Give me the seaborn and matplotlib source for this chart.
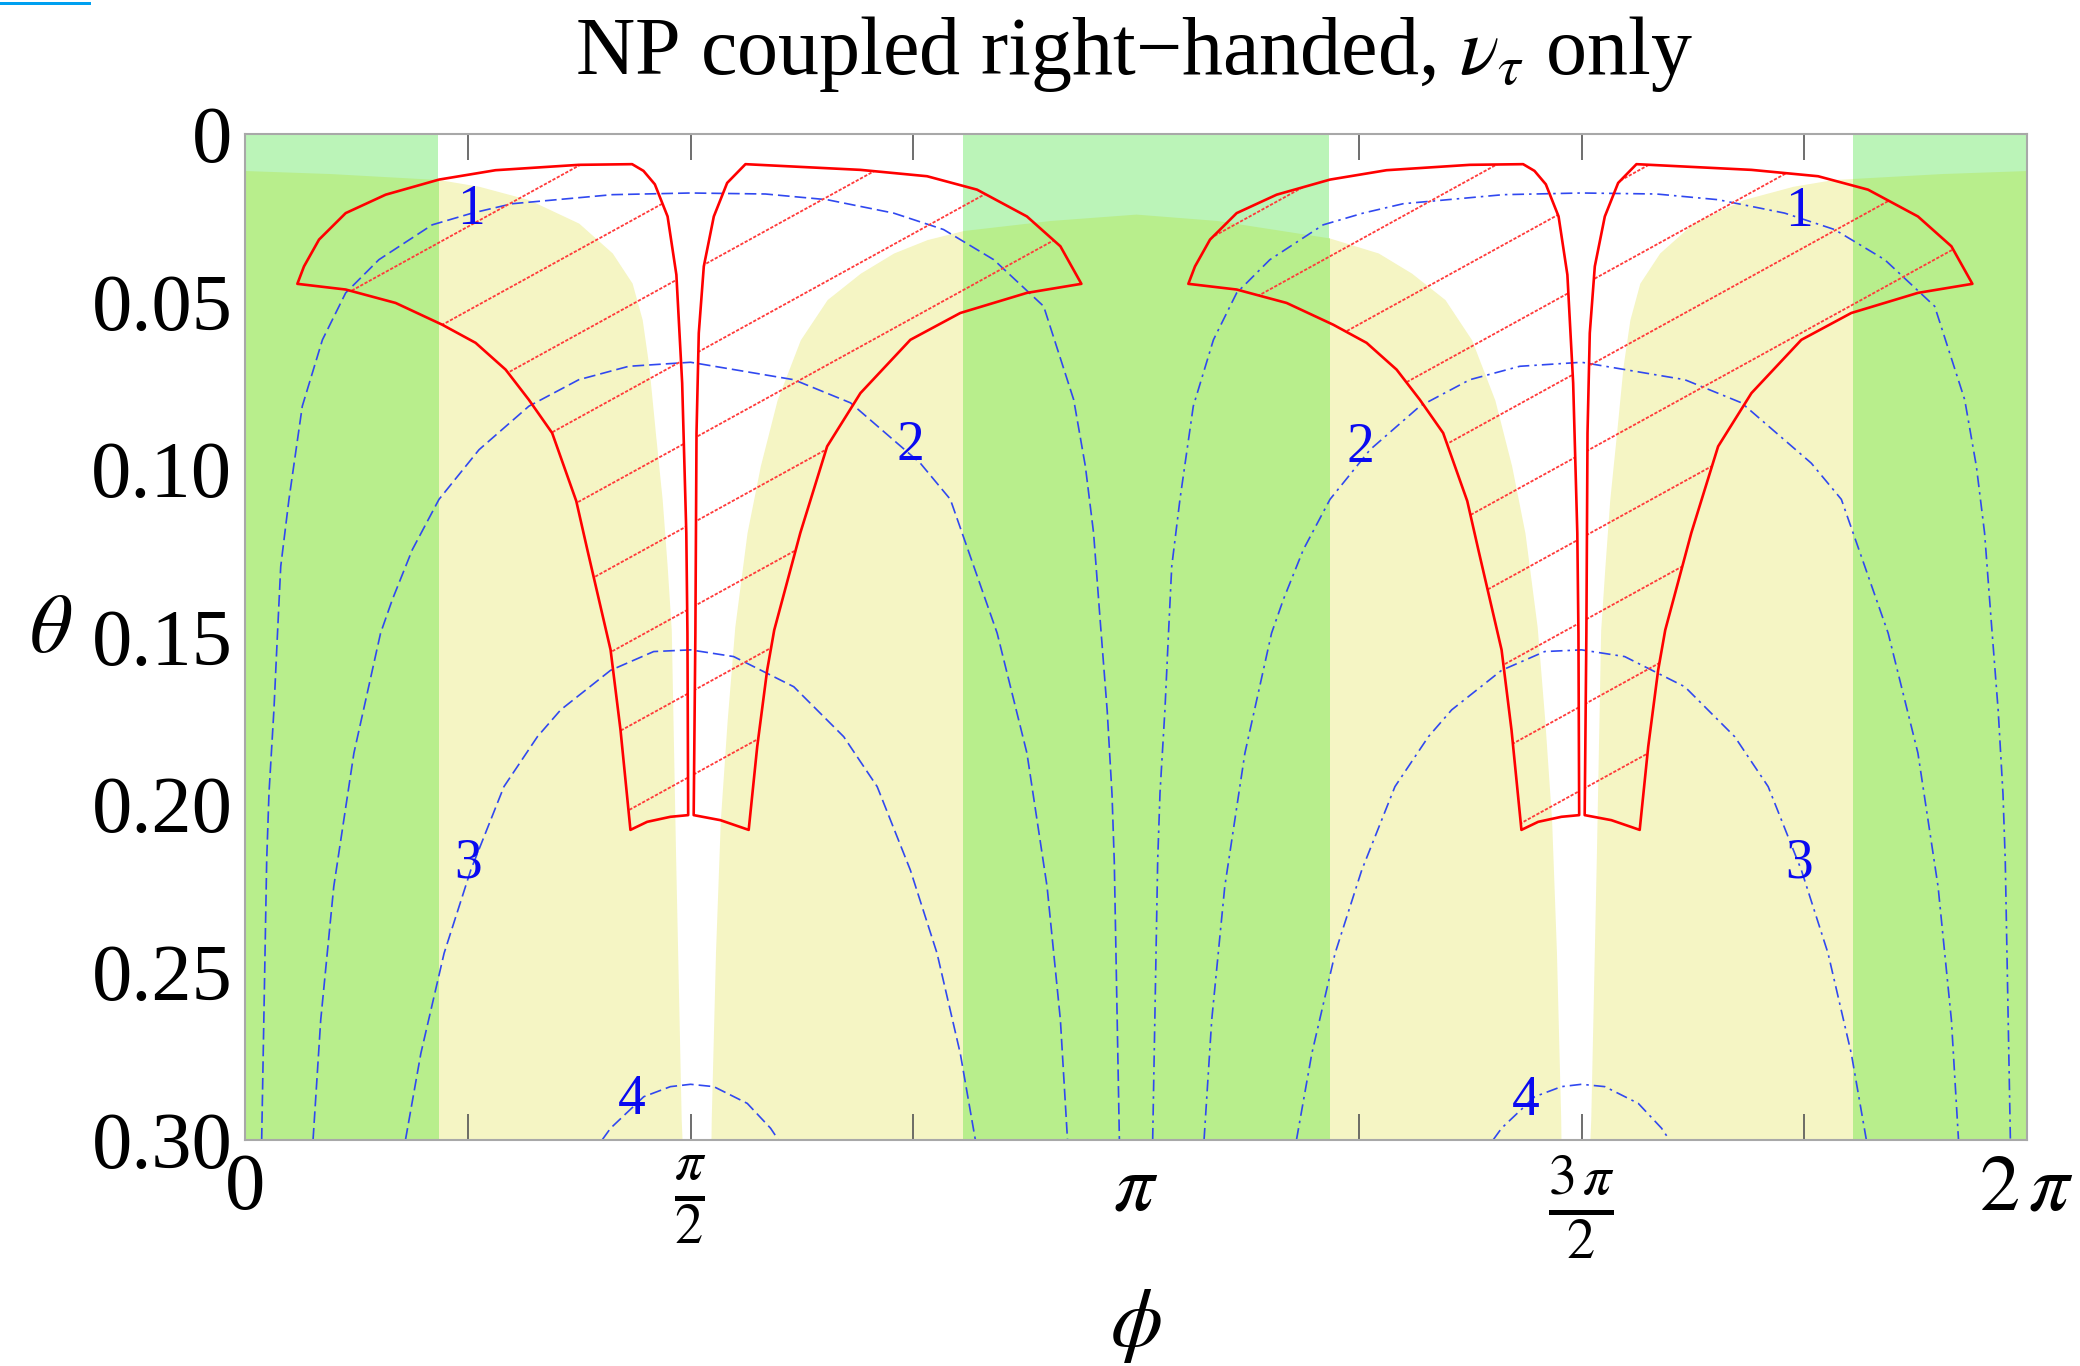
import numpy as np
import matplotlib
matplotlib.use("Agg")
import matplotlib.pyplot as plt
import seaborn as sns
from matplotlib.patches import Polygon, Rectangle
from matplotlib.collections import LineCollection

sns.set_theme(style="white")
plt.rcParams["font.family"] = ["Liberation Serif", "DejaVu Serif"]
plt.rcParams["mathtext.fontset"] = "stix"
plt.rcParams["text.color"] = "black"
plt.rcParams["axes.labelcolor"] = "black"
plt.rcParams["xtick.labelcolor"] = "black"
plt.rcParams["ytick.labelcolor"] = "black"

# ---------------------------------------------------------------- data
TITLE = "NP coupled right\u2212handed, $\\nu_\\tau$ only"

# lower edge of the excluded (white) region, theta_min(phi)
bound_phi = [0.0, 0.30, 0.684, 0.825, 1.001, 1.177, 1.295, 1.365, 1.4005, 1.424,
             1.447, 1.471, 1.4886, 1.503, 1.518, 1.538, 1.541, 1.643, 1.644, 1.659,
             1.676, 1.700, 1.727, 1.770, 1.817, 1.876, 1.958, 2.0525, 2.170, 2.287,
             2.405, 2.533, 2.84, 3.1416, 3.427, 3.823, 3.996, 4.113, 4.231, 4.325,
             4.407, 4.466, 4.513, 4.556, 4.583, 4.607, 4.624, 4.639, 4.640, 4.742,
             4.745, 4.765, 4.780, 4.795, 4.812, 4.836, 4.859, 4.883, 4.918, 4.988,
             5.106, 5.282, 5.458, 5.599, 5.983, 6.2832]
bound_theta = [0.0109, 0.0118, 0.0136, 0.0156, 0.0196, 0.0266, 0.0355, 0.0445, 0.0554, 0.0693,
               0.0892, 0.1091, 0.129, 0.148, 0.2145, 0.294, 0.30, 0.30, 0.2936, 0.244,
               0.2047, 0.175, 0.147, 0.119, 0.099, 0.0794, 0.0614, 0.0494, 0.0415, 0.0355,
               0.0315, 0.0288, 0.0258, 0.0239, 0.0258, 0.031, 0.0355, 0.0415, 0.0494, 0.0614,
               0.0794, 0.099, 0.119, 0.147, 0.175, 0.2047, 0.244, 0.2936, 0.30, 0.30,
               0.294, 0.2145, 0.148, 0.129, 0.1091, 0.0892, 0.0693, 0.0554, 0.0445, 0.0355,
               0.0266, 0.0196, 0.0156, 0.0136, 0.0118, 0.0109]

# phi intervals of the green bands
green_bands = [(0.0, 0.682), (2.533, 3.823), (5.669, 6.2832)]

# hatched region: two horns around phi = pi/2 (repeated around 3pi/2)
hornL_phi = [0.1846, 0.208, 0.261, 0.355, 0.496, 0.684, 0.8835, 1.177, 1.365,
             1.405, 1.445, 1.490, 1.521, 1.5414, 1.556, 1.560, 1.5626,
             1.500, 1.418, 1.359,
             1.324, 1.289, 1.207, 1.168, 1.083, 1.001, 0.919, 0.813,
             0.6956, 0.531, 0.355]
hornL_theta = [0.0447, 0.0395, 0.0315, 0.0236, 0.0181, 0.0136, 0.0108, 0.0092, 0.0090,
               0.0110, 0.0150, 0.0246, 0.0420, 0.0743, 0.119, 0.1489, 0.2032,
               0.2037, 0.2052, 0.2076,
               0.1778, 0.1539, 0.124, 0.1095, 0.0892, 0.0793, 0.0703, 0.0623,
               0.0569, 0.0504, 0.0464]
hornR_phi = [2.949, 2.875, 2.757, 2.581, 2.405, 2.170, 1.7646,
             1.700, 1.653, 1.6177, 1.600, 1.592, 1.588, 1.582,
             1.676, 1.776,
             1.806, 1.841, 1.866, 1.958, 2.0525, 2.170, 2.346, 2.522, 2.757]
hornR_theta = [0.0447, 0.0335, 0.0246, 0.0166, 0.0126, 0.0107, 0.0090,
               0.0146, 0.0246, 0.0395, 0.0594, 0.0892, 0.1489, 0.2032,
               0.2047, 0.2076,
               0.1828, 0.160, 0.148, 0.119, 0.0932, 0.0773, 0.0614, 0.0534, 0.0474]
horn_pair_shift = [0.0, np.pi]

# contour lines 1..4 in the first half period (repeated at phi + pi)
c1_phi = [0.0588, 0.0765, 0.0846, 0.102, 0.114, 0.126, 0.155, 0.202, 0.273, 0.355,
          0.472, 0.660, 0.801, 0.942, 1.295, 1.571, 1.835, 2.0525, 2.287, 2.463,
          2.640, 2.816, 2.922, 2.963, 2.992, 3.016, 3.040, 3.057, 3.065, 3.083]
c1_theta = [0.30, 0.2166, 0.1966, 0.1718, 0.150, 0.129, 0.109, 0.0812, 0.0614, 0.0474,
            0.0375, 0.0271, 0.0236, 0.0208, 0.0181, 0.0176, 0.0179, 0.0196, 0.0236, 0.0285,
            0.0375, 0.0514, 0.0793, 0.0991, 0.119, 0.1459, 0.172, 0.197, 0.217, 0.30]
c2_phi = [0.240, 0.267, 0.313, 0.384, 0.478, 0.5195, 0.590, 0.684, 0.825, 1.001,
          1.177, 1.353, 1.571, 1.935, 2.135, 2.381, 2.487, 2.652, 2.757, 2.828,
          2.875, 2.900]
c2_theta = [0.30, 0.2643, 0.2245, 0.1847, 0.1489, 0.1389, 0.124, 0.109, 0.0942, 0.0812,
            0.0733, 0.0693, 0.0681, 0.0733, 0.0802, 0.0982, 0.109, 0.1489, 0.1847, 0.2245,
            0.2643, 0.30]
c3_phi = [0.566, 0.620, 0.702, 0.796, 0.913, 1.031, 1.113, 1.289, 1.441, 1.571,
          1.723, 1.935, 2.111, 2.229, 2.346, 2.440, 2.522, 2.575]
c3_theta = [0.30, 0.2743, 0.2444, 0.2196, 0.1947, 0.1798, 0.1718, 0.160, 0.1544, 0.1539,
            0.1559, 0.1649, 0.1798, 0.1947, 0.2196, 0.2444, 0.2743, 0.30]
c4_phi = [1.26, 1.289, 1.406, 1.500, 1.571, 1.653, 1.771, 1.853, 1.88]
c4_theta = [0.30, 0.2966, 0.2872, 0.2842, 0.2835, 0.2842, 0.2892, 0.2966, 0.30]

contour_labels = ["1", "2", "3", "4", "1", "2", "3", "4"]
label_phi = [0.796, 2.346, 0.785, 1.365, 5.478, 3.932, 5.478, 4.515]
label_theta = [0.0226, 0.0932, 0.2176, 0.2882, 0.0233, 0.0937, 0.2176, 0.2885]

x_tick_vals = [k * np.pi / 4 for k in range(9)]
x_tick_text = ["0", "", r"$\frac{\pi}{2}$", "", r"$\pi$", "",
               r"$\frac{3\,\pi}{2}$", "", r"$2\,\pi$"]
y_tick_vals = [0.0, 0.05, 0.10, 0.15, 0.20, 0.25, 0.30]
y_tick_text = ["0", "0.05", "0.10", "0.15", "0.20", "0.25", "0.30"]

# ---------------------------------------------------------------- style
YELLOW = "#f5f5c4"
GREEN = "#b8ee8c"
LIGHT_GREEN = "#bbf4b8"
RED = "#ff0000"
HATCH_RED = "#ff3a3a"
BLUE = "#3048f0"
LABEL_BLUE = "#0a0af0"

W, H = 2080, 1366
fig = plt.figure(figsize=(W / 100, H / 100), dpi=100)
fig.patch.set_facecolor("white")
ax = fig.add_axes([245 / W, 1 - 1139.6 / H, 1782 / W, 1005.6 / H])
ax.set_facecolor("white")

# background regions
ax.fill_between(bound_phi, bound_theta, 0.30, color=YELLOW, lw=0, zorder=0.5)
for a, b in green_bands:
    ax.axvspan(a, b, color=LIGHT_GREEN, lw=0, zorder=0.6)
    band_clip = Rectangle((a, 0.0), b - a, 0.30, transform=ax.transData)
    poly = ax.fill_between(bound_phi, bound_theta, 0.30, color=GREEN, lw=0, zorder=0.7)
    poly.set_clip_path(band_clip)

# contour lines
curves = [(c1_phi, c1_theta), (c2_phi, c2_theta), (c3_phi, c3_theta), (c4_phi, c4_theta)]
styles = [(0, (7, 3)), (0, (7, 3, 1.5, 3))]
for shift, ls in zip(horn_pair_shift, styles):
    for ph, th in curves:
        sns.lineplot(x=np.asarray(ph) + shift, y=th, sort=False, estimator=None,
                     color=BLUE, lw=1.2, linestyle=ls, ax=ax, zorder=2)

for txt, ph, th in zip(contour_labels, label_phi, label_theta):
    ax.text(ph, th, txt, color=LABEL_BLUE, fontsize=40, ha="center", va="center", zorder=5)

# hatched horns
slope = 0.04656          # d(theta)/d(phi) of the hatch lines
spacing = 0.02506        # theta step between hatch lines
c0 = 0.0893
hatch_segs = []
for k in range(-5, 24):
    c = c0 + k * spacing
    hatch_segs.append([(0.0, c), (2 * np.pi, c - slope * 2 * np.pi)])

for shift in horn_pair_shift:
    for hp, ht in ((hornL_phi, hornL_theta), (hornR_phi, hornR_theta)):
        xy = np.column_stack([np.asarray(hp) + shift, ht])
        patch = Polygon(xy, closed=True, facecolor="none", edgecolor=RED,
                        lw=1.9, joinstyle="round", zorder=4)
        ax.add_patch(patch)
        lc = LineCollection(hatch_segs, colors=HATCH_RED, linewidths=1.3,
                            linestyles=[(0, (1.8, 0.9))], zorder=3)
        ax.add_collection(lc)
        lc.set_clip_path(patch)

# axes, ticks, labels
ax.set_xlim(0, 2 * np.pi)
ax.set_ylim(0.30, 0.0)
ax.set_xticks(x_tick_vals)
ax.set_xticklabels(x_tick_text)
ax.set_yticks(y_tick_vals)
ax.set_yticklabels(y_tick_text)
ax.set_yticks(np.arange(0, 0.3001, 0.01), minor=True)
ax.tick_params(axis="x", which="major", direction="in", length=18.7, width=1.2,
               color="#555555", top=True, bottom=True, labelsize=58, pad=10,
               labelcolor="black")
ax.tick_params(axis="y", which="major", direction="in", length=12.2, width=1.3,
               color="#333333", left=True, right=True, labelsize=58, pad=9,
               labelcolor="black")
ax.tick_params(axis="y", which="minor", direction="in", length=8.6, width=1.1,
               color="#333333", left=True, right=True)
for sp in ax.spines.values():
    sp.set_color("#a8a8a8")
    sp.set_linewidth(1.5)
    sp.set_zorder(6)

ax.set_ylabel(r"$\theta$", rotation=0, fontsize=60, va="center", ha="center", color="black")
ax.yaxis.set_label_coords(-0.109, 0.505)
ax.set_xlabel(r"$\phi$", fontsize=60, va="center", ha="center", color="black")
ax.xaxis.set_label_coords(0.5, -0.185)

fig.text(1134 / W, 1 - 74 / H, TITLE, ha="center", va="baseline", fontsize=59, color="black")
fig.add_artist(Rectangle((0, 1 - 5 / H), 91 / W, 3.5 / H, transform=fig.transFigure,
                         color="#00a0f0", lw=0))

fig.savefig("out.png", dpi=100)
